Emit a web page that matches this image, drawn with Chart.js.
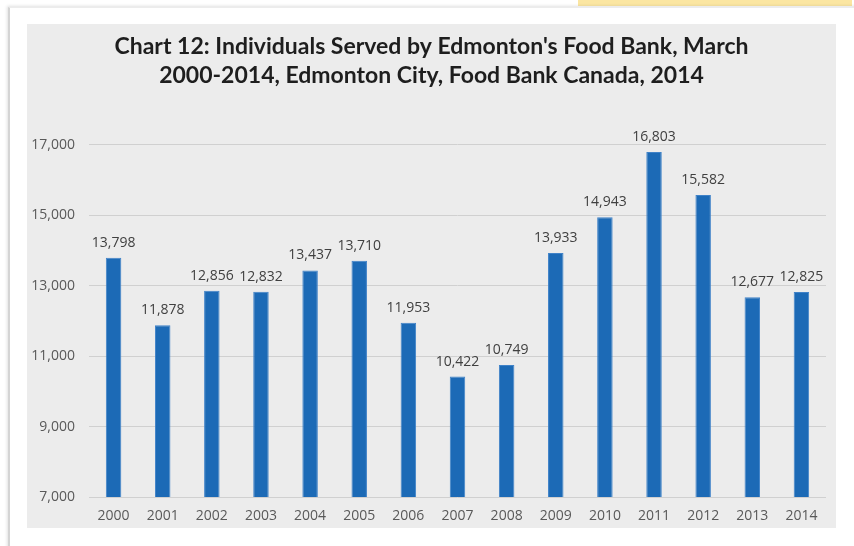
<!DOCTYPE html>
<html>
<head>
<meta charset="utf-8">
<script src="https://cdn.jsdelivr.net/npm/chart.js@4/dist/chart.umd.min.js"></script>
<style>
  body { margin: 0; background: #fff; width: 854px; height: 546px; overflow: hidden; position: relative; }
  #strip { position: absolute; left: 578px; top: 0; width: 274px; height: 6px; background: #fbe6a2; }
  #page { position: absolute; left: 8px; top: 7px; width: 900px; height: 600px; background: #fff;
          border-left: 2px solid #d4d4d4; border-top: 1px solid #ececec;
          box-shadow: -1px -1px 3px rgba(0,0,0,0.12); }
  #box { position: absolute; left: 27px; top: 24px; width: 809px; height: 504px; background: #ececec; }
</style>
</head>
<body>
<div id="strip"></div>
<div id="page"></div>
<div id="box"><canvas id="myChart" width="809" height="504"></canvas></div>
<script>
// years on the x axis
const years = ['2000', '2001', '2002', '2003', '2004', '2005', '2006', '2007',
  '2008', '2009', '2010', '2011', '2012', '2013', '2014'];
// individuals served
const served = [13798, 11878, 12856, 12832, 13437, 13710, 11953, 10422,
  10749, 13933, 14943, 16803, 15582, 12677, 12825];
const titleLines = ["Chart 12: Individuals Served by Edmonton's Food Bank, March",
  "2000-2014, Edmonton City, Food Bank Canada, 2014"];

// numbers on top of the bars
const barLabels = {
  id: 'barLabels',
  afterLayout(chart) {
    // center the title on the whole grey box, not just the padded area
    if (chart.titleBlock) {
      chart.titleBlock.left = 5;
      chart.titleBlock.right = chart.width - 5;
      chart.titleBlock.width = chart.width - 10;
    }
  },
  afterDatasetsDraw(chart) {
    const ctx = chart.ctx;
    const meta = chart.getDatasetMeta(0);
    ctx.save();
    ctx.font = '14px "Open Sans"';
    ctx.fillStyle = '#404040';
    ctx.textAlign = 'center';
    ctx.textBaseline = 'alphabetic';
    meta.data.forEach(function(bar, i) {
      ctx.fillText(served[i].toLocaleString('en-US'), bar.x, bar.y - 11);
    });
    ctx.restore();
  }
};

var myChart = document.getElementById('myChart').getContext('2d');

var servedChart = new Chart(myChart, {
  type: 'bar',
  data: {
    labels: years,
    datasets: [{
      data: served,
      backgroundColor: '#1c6ab6',
      borderColor: '#3f82c8',
      borderWidth: 1,
      barPercentage: 0.315,
      categoryPercentage: 1
    }]
  },
  options: {
    responsive: false,
    animation: false,
    layout: { padding: { left: 0, right: 10, top: 0, bottom: 0 } },
    plugins: {
      legend: { display: false },
      tooltip: { enabled: false },
      title: {
        display: true,
        text: titleLines,
        color: '#1e1e1e',
        font: { family: 'Lato', size: 23, weight: 'bold', lineHeight: 1.26 },
        padding: { top: 8.5, bottom: 54.5 }
      }
    },
    scales: {
      y: {
        min: 7000,
        max: 17000,
        ticks: {
          stepSize: 2000,
          padding: 14,
          color: '#595959',
          font: { family: 'Open Sans', size: 14 },
          callback: function(v) { return v.toLocaleString('en-US'); }
        },
        grid: { color: '#d0d0d0', drawTicks: false },
        border: { display: false },
        afterFit: function(scale) { scale.width = 62; }
      },
      x: {
        ticks: {
          padding: 11,
          color: '#595959',
          font: { family: 'Open Sans', size: 14 }
        },
        grid: { display: false, drawTicks: false },
        border: { display: false },
        afterFit: function(scale) { scale.height = 31; }
      }
    }
  },
  plugins: [barLabels]
});
</script>
</body>
</html>
